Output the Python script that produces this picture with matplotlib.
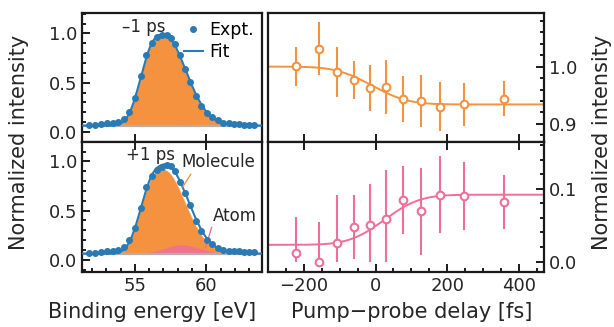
import math
import numpy as np
import matplotlib
matplotlib.use("Agg")
import matplotlib.pyplot as plt
from matplotlib.ticker import MultipleLocator

# ---- XPS spectra (left panels) ----
energy = [51.79, 52.22, 52.62, 53.04, 53.45, 53.85, 54.21, 54.60, 55.02, 55.42,
          55.81, 56.18, 56.53, 56.88, 57.23, 57.51, 57.80, 58.16, 58.54, 58.88,
          59.28, 59.65, 60.05, 60.40, 60.79, 61.16, 61.56, 61.91, 62.28, 62.65,
          63.00, 63.36]
expt_m1 = [0.068, 0.071, 0.078, 0.085, 0.088, 0.099, 0.126, 0.200, 0.349, 0.566,
           0.779, 0.908, 0.966, 0.983, 0.986, 0.956, 0.898, 0.779, 0.637, 0.502,
           0.363, 0.258, 0.187, 0.149, 0.116, 0.095, 0.088, 0.078, 0.075, 0.071,
           0.068, 0.071]
expt_p1 = [0.072, 0.072, 0.079, 0.086, 0.092, 0.099, 0.126, 0.197, 0.325, 0.528,
           0.737, 0.848, 0.909, 0.946, 0.966, 0.949, 0.899, 0.787, 0.679, 0.561,
           0.393, 0.291, 0.197, 0.157, 0.119, 0.096, 0.092, 0.089, 0.086, 0.082,
           0.082, 0.082]

# fit parameters: baseline, molecule peak (asymmetric), atom peak (gaussian)
baseline = 0.064
mol_center = 57.0
mol_wl, mol_pl = 1.87, 2.8
mol_wr, mol_pr = 2.18, 2.0
mol_amp = {"m1": 0.92, "p1": 0.855}
atom_center, atom_sigma = 58.3, 1.2
atom_amp = {"m1": 0.012, "p1": 0.09}

# ---- pump-probe delay scans (right panels) ----
delay = [-222, -159, -108, -61, -16, 28, 76, 126, 179, 247, 359]
mol_int = [1.001, 1.031, 0.991, 0.976, 0.963, 0.964, 0.944, 0.940, 0.930, 0.934, 0.944]
mol_err = [0.034, 0.046, 0.044, 0.033, 0.040, 0.047, 0.040, 0.046, 0.043, 0.037, 0.031]
atom_int = [0.012, 0.000, 0.026, 0.047, 0.050, 0.058, 0.085, 0.069, 0.092, 0.090, 0.082]
atom_err = [0.049, 0.055, 0.066, 0.044, 0.057, 0.068, 0.047, 0.060, 0.053, 0.047, 0.037]

# step-function fits (erf)
mol_fit = dict(before=1.0, after=0.934, t0=-10, w=112)
atom_fit = dict(before=0.023, after=0.092, t0=25, w=110)

blue = "#2a7ab4"
orange = "#f5923f"
pink = "#ef6f98"
txt = "#262626"

erf = np.vectorize(math.erf)


def mol_peak(e, amp):
    d = e - mol_center
    left = np.exp(-(np.abs(d) / mol_wl) ** mol_pl)
    right = np.exp(-(np.abs(d) / mol_wr) ** mol_pr)
    return amp * np.where(d < 0, left, right)


def atom_peak(e, amp):
    return amp * np.exp(-0.5 * ((e - atom_center) / atom_sigma) ** 2)


def step(t, p):
    return p["before"] + (p["after"] - p["before"]) * 0.5 * (1 + erf((t - p["t0"]) / p["w"]))


plt.rcParams["font.family"] = "DejaVu Sans"
fig = plt.figure(figsize=(6.14, 3.27), dpi=100)

W, H = 614.0, 327.0
def rect(x0, x1, y0, y1):
    return [x0 / W, 1 - y1 / H, (x1 - x0) / W, (y1 - y0) / H]

ax_lt = fig.add_axes(rect(82, 262, 13.3, 141.7))
ax_lb = fig.add_axes(rect(82, 262, 141.7, 271.7))
ax_rt = fig.add_axes(rect(268, 544, 13.3, 141.7))
ax_rb = fig.add_axes(rect(268, 544, 141.7, 271.7))

egrid = np.linspace(51.3, 63.9, 500)
for ax, key, expt in [(ax_lt, "m1", expt_m1), (ax_lb, "p1", expt_p1)]:
    mol = mol_peak(egrid, mol_amp[key])
    atom = atom_peak(egrid, atom_amp[key])
    base = np.full_like(egrid, baseline)
    ax.fill_between(egrid, base, base + mol, color=orange, lw=0, zorder=1)
    ax.plot(egrid, base + mol, color="white", lw=0.6, alpha=0.5, zorder=1.5)
    ax.fill_between(egrid, base, base + atom, color=pink, alpha=0.85, lw=0, zorder=2)
    ax.plot(egrid, base, color="#b0b0b0", lw=1.6, zorder=2.5)
    ax.plot(energy, expt, "o", color=blue, ms=4.0, zorder=4, label="Expt.")
    ax.plot(egrid, base + mol + atom, color=blue, lw=1.5, zorder=3, label="Fit")
    ax.set_xlim(51.3, 63.9)
    ax.xaxis.set_major_locator(MultipleLocator(5))
    ax.yaxis.set_major_locator(MultipleLocator(0.5))
    ax.yaxis.set_minor_locator(MultipleLocator(0.1))

ax_lt.set_ylim(-0.1, 1.205)
ax_lb.set_ylim(-0.12, 1.2)
ax_lb.xaxis.set_minor_locator(MultipleLocator(1))

ax_lt.legend(loc="upper right", frameon=False, fontsize=12.5, handlelength=1.1,
             handletextpad=0.4, borderaxespad=0.05, labelspacing=0.2, numpoints=1)
ax_lt.text(54.1, 1.07, "–1 ps", fontsize=12, color=txt, ha="left", va="center")
ax_lb.text(54.4, 1.065, "+1 ps", fontsize=12, color=txt, ha="left", va="center")
ax_lb.annotate("Molecule", xy=(58.35, 0.74), xytext=(58.26, 0.99), fontsize=12,
               color=txt, ha="left", va="center",
               arrowprops=dict(arrowstyle="-", color=orange, lw=1, relpos=(0.15, 0.0),
                               shrinkA=0, shrinkB=0))
ax_lb.annotate("Atom", xy=(59.93, 0.12), xytext=(60.44, 0.45), fontsize=12,
               color=txt, ha="left", va="center",
               arrowprops=dict(arrowstyle="-", color=pink, lw=1, relpos=(0.0, 0.0),
                               shrinkA=0, shrinkB=0))

tgrid = np.linspace(-300, 470, 400)
for ax, vals, errs, p, col in [(ax_rt, mol_int, mol_err, mol_fit, orange),
                                (ax_rb, atom_int, atom_err, atom_fit, pink)]:
    vals = np.array(vals)
    errs = np.array(errs)
    lower = np.minimum(errs, vals)
    ax.plot(tgrid, step(tgrid, p), color=col, lw=1.4, zorder=1)
    ax.errorbar(delay, vals, yerr=[lower, errs], fmt="o", color=col, mfc="white",
                mec=col, mew=1.5, ms=5.5, elinewidth=1.5, capsize=0, zorder=3)
    ax.set_xlim(-300, 470)
    ax.xaxis.set_major_locator(MultipleLocator(200))

ax_rt.set_ylim(0.869, 1.093)
ax_rt.yaxis.set_major_locator(MultipleLocator(0.1))
ax_rt.yaxis.set_minor_locator(MultipleLocator(0.02))
ax_rb.set_ylim(-0.014, 0.165)
ax_rb.yaxis.set_major_locator(MultipleLocator(0.1))
ax_rb.yaxis.set_minor_locator(MultipleLocator(0.02))
ax_rb.xaxis.set_minor_locator(MultipleLocator(50))

for ax in (ax_lt, ax_lb, ax_rt, ax_rb):
    for s in ax.spines.values():
        s.set_linewidth(1.6)
        s.set_color("#1a1a1a")
    ax.tick_params(which="both", direction="in", color="#1a1a1a", labelcolor=txt,
                   labelsize=13, width=1.4, top=False)
    ax.tick_params(which="major", length=5.5)
    ax.tick_params(which="minor", length=3.2)

for ax in (ax_lt, ax_rt):
    ax.tick_params(axis="x", labelbottom=False)
for ax in (ax_lb, ax_rb):
    ax.tick_params(axis="x", which="major", top=True)
for ax in (ax_rt, ax_rb):
    ax.tick_params(axis="y", which="both", left=False, right=True, labelleft=False,
                   labelright=True)

ax_lb.set_xlabel("Binding energy [eV]", fontsize=15, color=txt)
ax_lb.xaxis.set_label_coords(0.392, -0.235)
ax_rb.set_xlabel("Pump−probe delay [fs]", fontsize=15, color=txt)
ax_rb.xaxis.set_label_coords(0.52, -0.235)
fig.text(0.031, 0.564, "Normalized intensity", rotation=90, fontsize=15, color=txt,
         ha="center", va="center")
fig.text(0.981, 0.564, "Normalized intensity", rotation=90, fontsize=15, color=txt,
         ha="center", va="center")

fig.savefig("out.png", dpi=100)
